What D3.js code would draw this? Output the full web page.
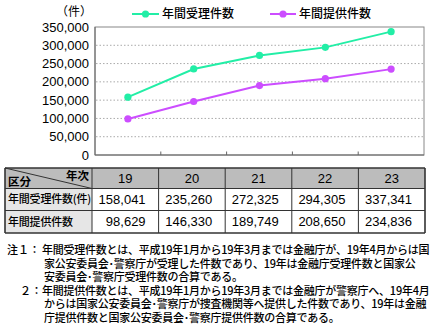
<!DOCTYPE html>
<html><head><meta charset="utf-8">
<script src="https://cdn.jsdelivr.net/npm/d3@7"></script>
<style>body{margin:0;background:#fff}svg{display:block}</style>
</head><body>
<script>
const years = ["19","20","21","22","23"];
const received = [158041, 235260, 272325, 294305, 337341];
const provided = [98629, 146330, 189749, 208650, 234836];
const yTicks = [0,50000,100000,150000,200000,250000,300000,350000];
const seriesNames = ["年間受理件数","年間提供件数"];
const rowLabels = ["年間受理件数(件)","年間提供件数"];
const notes = [
  ["注１：","年間受理件数とは、平成19年1月から19年3月までは金融庁が、19年4月からは国"],
  ["","家公安委員会･警察庁が受理した件数であり、19年は金融庁受理件数と国家公"],
  ["","安委員会･警察庁受理件数の合算である。"],
  ["２：","年間提供件数とは、平成19年1月から19年3月までは金融庁が警察庁へ、19年4月"],
  ["","からは国家公安委員会･警察庁が捜査機関等へ提供した件数であり、19年は金融"],
  ["","庁提供件数と国家公安委員会･警察庁提供件数の合算である。"]
];

const colors = ["#22EEA6","#CC4DFF"];
const JP = "'Noto Sans CJK JP','Noto Sans',sans-serif";
const NUM = "'Liberation Sans',Arial,sans-serif";

const svg = d3.select("body").append("svg").attr("width",430).attr("height",327);
svg.append("rect").attr("width",430).attr("height",327).attr("fill","#fff");

const x = d3.scaleBand().domain(years).range([95,424]).padding(0);
const y = d3.scaleLinear().domain([0,350000]).range([155,27]);

// gridlines
svg.append("g").selectAll("line").data(yTicks.filter(d=>d>0&&d<350000)).join("line")
  .attr("x1",96).attr("x2",423).attr("y1",d=>y(d)).attr("y2",d=>y(d))
  .attr("stroke","#aaa").attr("stroke-width",1).attr("stroke-dasharray","1.5,2");

// plot frame
svg.append("rect").attr("x",95).attr("y",27).attr("width",329).attr("height",128)
  .attr("fill","none").attr("stroke","#888").attr("stroke-width",1);
svg.append("line").attr("x1",95).attr("x2",424).attr("y1",155).attr("y2",155).attr("stroke","#666");
svg.append("line").attr("x1",95).attr("x2",95).attr("y1",27).attr("y2",155).attr("stroke","#666");

// x ticks (inward)
svg.append("g").selectAll("line").data(years.slice(1)).join("line")
  .attr("x1",d=>x(d)).attr("x2",d=>x(d)).attr("y1",155).attr("y2",151.5)
  .attr("stroke","#666");

// y labels
svg.append("g").selectAll("text").data(yTicks).join("text")
  .attr("x",89).attr("y",d=>y(d)).attr("dy","0.35em").attr("text-anchor","end")
  .attr("font-family",NUM).attr("font-size",13).attr("fill","#000")
  .text(d=>d3.format(",")(d));

svg.append("text").attr("x",74).attr("y",12).attr("dy","0.35em").attr("text-anchor","middle")
  .attr("font-family",JP).attr("font-size",12).text("（件）");

// lines
const line = d3.line().x((d,i)=>x(years[i])+x.bandwidth()/2).y(d=>y(d));
[received, provided].forEach((s,k)=>{
  svg.append("path").datum(s).attr("d",line).attr("fill","none")
    .attr("stroke",colors[k]).attr("stroke-width",2);
  svg.append("g").selectAll("circle").data(s).join("circle")
    .attr("cx",(d,i)=>x(years[i])+x.bandwidth()/2).attr("cy",d=>y(d)).attr("r",3.6)
    .attr("fill",colors[k]);
});

// legend
const leg = [{x0:132,x1:159,tx:162},{x0:270,x1:296,tx:299}];
seriesNames.forEach((n,k)=>{
  const L = leg[k];
  svg.append("line").attr("x1",L.x0).attr("x2",L.x1).attr("y1",14).attr("y2",14)
    .attr("stroke",colors[k]).attr("stroke-width",2);
  svg.append("circle").attr("cx",(L.x0+L.x1)/2).attr("cy",14).attr("r",3.6).attr("fill",colors[k]);
  svg.append("text").attr("x",L.tx).attr("y",14).attr("dy","0.36em")
    .attr("font-family",JP).attr("font-size",12).attr("font-weight",500).text(n);
});

// table
const tx = d3.scaleBand().domain(years).range([92,425]);
const rows = [168,188.5,210.5,233];
const tb = svg.append("g");
tb.append("rect").attr("x",5).attr("y",rows[0]).attr("width",420).attr("height",rows[1]-rows[0]).attr("fill","#bcbcbc");
tb.append("rect").attr("x",5).attr("y",rows[1]).attr("width",87).attr("height",rows[3]-rows[1]).attr("fill","#e6e6e6");
rows.forEach((ry,i)=>tb.append("line").attr("x1",5).attr("x2",425).attr("y1",ry).attr("y2",ry)
  .attr("stroke","#333").attr("stroke-width",i===0||i===3?1.6:1));
[5,...years.map(d=>tx(d)),425].forEach((cx,i,a)=>tb.append("line").attr("x1",cx).attr("x2",cx)
  .attr("y1",rows[0]).attr("y2",rows[3]).attr("stroke","#333").attr("stroke-width",i===0||i===a.length-1?1.6:1));
tb.append("line").attr("x1",5).attr("y1",rows[0]).attr("x2",92).attr("y2",rows[1]).attr("stroke","#333");
tb.append("text").attr("x",8).attr("y",186).attr("font-family",JP).attr("font-size",11.5).attr("font-weight",700).text("区分");
tb.append("text").attr("x",89).attr("y",179.5).attr("text-anchor","end").attr("font-family",JP).attr("font-size",11.5).attr("font-weight",700).text("年次");
tb.selectAll("text.yr").data(years).join("text").attr("class","yr")
  .attr("x",d=>tx(d)+tx.bandwidth()/2).attr("y",(rows[0]+rows[1])/2).attr("dy","0.36em")
  .attr("text-anchor","middle").attr("font-family",NUM).attr("font-size",13).text(d=>d);
[received, provided].forEach((s,k)=>{
  const cy = (rows[k+1]+rows[k+2])/2;
  tb.append("text").attr("x",8).attr("y",cy).attr("dy","0.36em")
    .attr("font-family",JP).attr("font-size",11).attr("font-weight",500)
    .attr("letter-spacing","-0.2px").text(rowLabels[k]);
  tb.append("g").selectAll("text").data(s).join("text")
    .attr("x",(d,i)=>tx(years[i])+tx.bandwidth()-13).attr("y",cy).attr("dy","0.36em")
    .attr("text-anchor","end").attr("font-family",NUM).attr("font-size",13)
    .text(d=>d3.format(",")(d));
});

// notes (single text block with one tspan per line)
const noteY = [250,264,277.5,291,304.5,318];
const nt = svg.append("text").attr("font-family",JP).attr("font-size",11).attr("font-weight",500);
notes.forEach((n,i)=>{
  if(n[0]) nt.append("tspan").attr("x",i===0?7:20).attr("y",noteY[i]).attr("dy","0.36em").text(n[0]);
  nt.append("tspan").attr("x",n[0]?42:44).attr("y",noteY[i]).attr("dy","0.36em")
    .attr("letter-spacing","-0.25px").text(n[1]);
});
</script>
</body></html>
